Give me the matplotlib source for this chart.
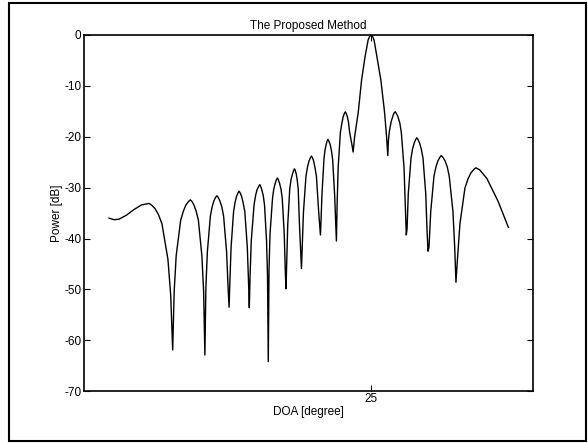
import matplotlib
matplotlib.use("Agg")
import matplotlib.pyplot as plt
from matplotlib.patches import Rectangle

# beam pattern (DOA in degrees, power in dB)
doa = [-80.0, -78.0, -76.0, -73.0, -70.0, -67.0, -64.0,
       -63.0, -61.6, -60.2, -58.8, -56.4, -55.3, -54.5,
       -53.9, -53.1, -51.3, -50.2, -49.2, -48.1, -47.4, -46.8, -46.0, -45.1, -44.2, -42.8, -42.1, -41.6,
       -41.2, -40.6, -39.4, -38.7, -38.0, -37.3, -36.8, -36.3, -35.6, -34.8, -34.1, -32.9, -32.3, -31.9,
       -31.6, -31.1, -30.1, -29.5, -28.9, -28.3, -27.9, -27.5, -26.9, -26.3, -25.6, -24.6, -24.1, -23.8,
       -23.5, -23.0, -21.9, -21.3, -20.7, -20.0, -19.6, -19.3, -18.8, -18.2, -17.7, -16.9, -16.5, -16.2,
       -15.9, -15.5, -14.5, -14.0, -13.4, -12.9, -12.5, -12.2, -11.7, -11.1, -10.6, -9.8, -9.4, -9.1,
       -8.8, -8.4, -7.6, -7.1, -6.5, -6.0, -5.7, -5.4, -5.0, -4.6, -4.2, -3.7, -3.2, -2.9,
       -2.6, -2.1, -1.1, -0.5, 0.1, 0.7, 1.1, 1.5, 2.0, 2.5, 3.1, 4.0, 4.4, 4.7,
       4.9, 5.3, 6.1, 6.5, 7.0, 7.4, 7.7, 8.0, 8.6, 9.1, 9.6, 10.4, 10.8, 11.1,
       11.4, 11.8, 12.7, 13.3, 13.8, 14.3, 14.7, 15.0, 15.5, 15.9, 16.4, 17.3, 17.8,
       18.4, 19.85, 21.2, 22.6, 23.8, 24.4, 25.0, 25.6, 26.2, 27.2, 28.9, 30.4, 31.2, 31.7,
       31.9, 32.3, 33.05, 33.95, 34.4, 34.7, 35.1, 35.8, 36.5, 37.1, 38.2, 38.7, 39.1,
       39.4, 39.9, 41.0, 41.6, 42.3, 42.9, 43.3, 43.75, 44.4, 45.1, 45.8, 46.9, 47.4, 47.8,
       48.2, 48.9, 50.2, 51.0, 51.8, 52.6, 53.1, 53.7, 54.6, 55.5, 56.3, 57.8, 58.5, 59.0,
       59.6, 60.6, 62.6, 63.8, 65.0, 66.2, 67.0, 68.5, 71.4, 75.9, 80.0]
power = [-36.0, -36.3, -36.2, -35.4, -34.3, -33.4, -33.1,
         -33.4, -34.1, -35.3, -37.1, -44.1, -51.1, -61.9,
         -50.4, -43.4, -36.4, -34.6, -33.4, -32.7, -32.4, -32.7, -33.4, -34.6, -36.4, -43.4, -50.4, -62.9,
         -49.6, -42.6, -35.6, -33.8, -32.6, -31.9, -31.6, -31.9, -32.6, -33.8, -35.6, -42.6, -49.6, -53.5,
         -48.7, -41.7, -34.7, -32.9, -31.7, -31.0, -30.7, -31.0, -31.7, -32.9, -34.7, -41.7, -48.7, -53.6,
         -47.4, -40.4, -33.4, -31.6, -30.4, -29.7, -29.4, -29.7, -30.4, -31.6, -33.4, -40.4, -47.4, -64.2,
         -46.1, -39.1, -32.1, -30.3, -29.1, -28.4, -28.1, -28.4, -29.1, -30.3, -32.1, -39.1, -46.1, -49.9,
         -44.3, -37.3, -30.3, -28.5, -27.3, -26.6, -26.3, -26.6, -27.3, -28.5, -30.3, -37.3, -42.5, -45.9,
         -41.8, -34.8, -27.8, -26.0, -24.8, -24.1, -23.8, -24.1, -24.8, -26.0, -27.8, -34.8, -37.3, -39.3,
         -37.0, -31.5, -24.5, -22.7, -21.5, -20.8, -20.5, -20.8, -21.5, -22.7, -24.5, -31.5, -36.5, -40.5,
         -33.1, -26.1, -19.1, -17.3, -16.1, -15.4, -15.1, -15.4, -16.1, -17.0, -19.1, -21.5, -23.0,
         -20.0, -15.2, -8.8, -4.2, -1.0, -0.3, 0.0, -0.3, -1.0, -3.9, -8.8, -15.2, -20.0, -23.7,
         -21.0, -19.0, -17.0, -15.6, -15.2, -15.1, -15.4, -16.1, -17.3, -19.1, -26.1, -33.1, -39.3,
         -38.2, -31.2, -24.2, -22.4, -21.2, -20.5, -20.2, -20.5, -21.2, -22.4, -24.2, -31.2, -38.2, -42.5,
         -41.7, -34.7, -27.7, -25.9, -24.7, -24.0, -23.7, -24.0, -24.7, -25.9, -27.7, -34.7, -41.7, -48.6,
         -44.1, -37.1, -30.1, -28.3, -27.1, -26.4, -26.1, -26.5, -28.2, -32.7, -37.8]

y_ticks = [0, -10, -20, -30, -40, -50, -60, -70]
x_ticks = [25]

plt.rcParams['font.family'] = ['Liberation Sans', 'DejaVu Sans']
plt.rcParams['axes.unicode_minus'] = False

fig = plt.figure(figsize=(5.88, 4.43), dpi=100)
ax = fig.add_axes([0.143, 0.117, 0.764, 0.804])

ax.plot(doa, power, color='black', linewidth=1.0)

ax.set_xlim(-90, 90)
ax.set_ylim(-70, 0)
ax.set_xticks(x_ticks)
ax.set_yticks(y_ticks)
ax.tick_params(direction='in', length=4, width=0.8, labelsize=8.5,
               top=True, right=True)
ax.tick_params(axis='x', pad=1)
ax.tick_params(axis='y', pad=2)
for s in ax.spines.values():
    s.set_linewidth(1.2)

ax.set_title('The Proposed Method', fontsize=8.5, pad=4)
ax.set_xlabel('DOA [degree]', fontsize=8.5, labelpad=1)
ax.set_ylabel('Power [dB]', fontsize=8.5, labelpad=1)

# outer border of the scanned figure
fig.patches.append(Rectangle((0.016, 0.005), 0.98, 0.988, transform=fig.transFigure,
                             fill=False, edgecolor='black', linewidth=1.5))

fig.savefig('out.png', dpi=100)
